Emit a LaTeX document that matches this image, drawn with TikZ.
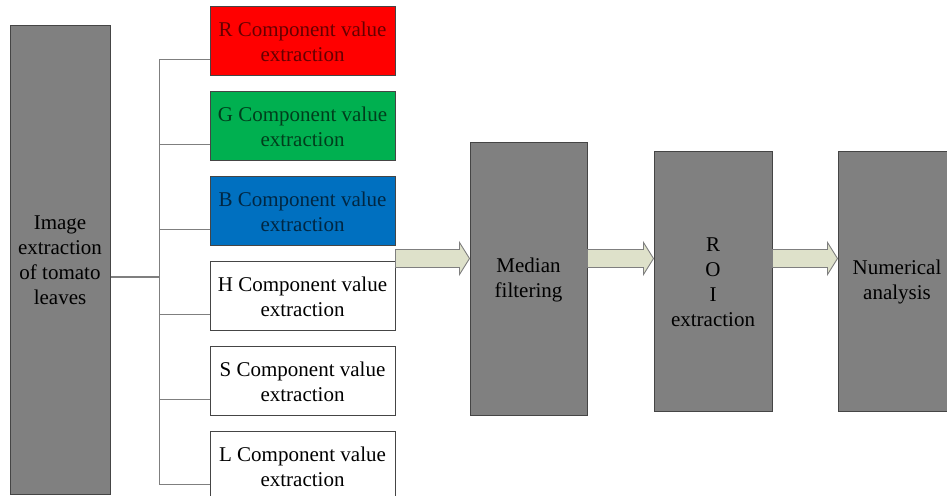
\documentclass[tikz,border=0pt]{standalone}
\usepackage{fontspec}
\setmainfont{Liberation Serif}
\usetikzlibrary{positioning,calc}
\definecolor{stagegray}{HTML}{808080}
\definecolor{edgegray}{HTML}{454545}
\definecolor{wiregray}{HTML}{7F7F7F}
\definecolor{arrowfill}{HTML}{DEE1CA}
\definecolor{rcol}{HTML}{FF0000}
\definecolor{gcol}{HTML}{00B050}
\definecolor{bcol}{HTML}{0070C0}

\begin{document}
\begin{tikzpicture}[x=1pt,y=1pt,
    every node/.style={font=\fontsize{21}{25}\selectfont, align=center, inner sep=0pt},
    stage/.style={draw=edgegray, fill=stagegray, line width=1pt},
    comp/.style={draw=edgegray, line width=1pt, minimum width=185pt, minimum height=69pt},
    wire/.style={draw=wiregray, line width=1.2pt},
    fat/.style={draw=wiregray, fill=arrowfill, line width=0.9pt, line join=miter}]
    \useasboundingbox (0,0) rectangle (947,495);
    \node[stage, minimum width=100pt, minimum height=468pt] (img) at (60,235) {Image\\extraction\\of tomato\\leaves};
    \node[comp, fill=rcol, text=rcol!40!black] (r) at (302.5,453.5) {R Component value\\extraction};
    \node[comp, fill=gcol, text=gcol!35!black, below=15pt of r] (g) {G Component value\\extraction};
    \node[comp, fill=bcol, text=bcol!35!black, below=15pt of g] (b) {B Component value\\extraction};
    \node[comp, fill=white, below=15pt of b] (h) {H Component value\\extraction};
    \node[comp, fill=white, below=15pt of h] (s) {S Component value\\extraction};
    \node[comp, fill=white, below=15pt of s] (l) {L Component value\\extraction};
    \node[stage, minimum width=117pt, minimum height=273pt] (med) at (528.5,215.5) {Median\\filtering};
    \node[stage, minimum width=118pt, minimum height=260pt] (roi) at (713,213) {R\\O\\I\\extraction};
    \node[stage, minimum width=118pt, minimum height=260pt] (num) at (897,213) {Numerical\\analysis};
    \coordinate (bustop) at ([xshift=-50pt,yshift=-18pt]r.west);
    \coordinate (busbot) at ([xshift=-50pt,yshift=-18pt]l.west);
    \draw[wire] (bustop) -- (busbot);
    \foreach \n in {r,g,b,h,s,l}
        \draw[wire] ([yshift=-18pt]\n.west) -- ([yshift=-18pt]\n.west -| bustop);
    \draw[wire] ([yshift=-17pt]img.east) -- ([yshift=-17pt]img.east -| bustop);
    \coordinate (axis) at (0,236.5);
    \foreach \a/\b in {h/med,med/roi,roi/num}
        \draw[fat] ($(\a.east |- axis)+(0,9)$) -- ($(\b.west |- axis)+(-10,9)$) -- ++(0,7)
            -- (\b.west |- axis) -- ++(-10,-16) -- ++(0,7) -- ($(\a.east |- axis)+(0,-9)$) -- cycle;
\end{tikzpicture}
\end{document}
